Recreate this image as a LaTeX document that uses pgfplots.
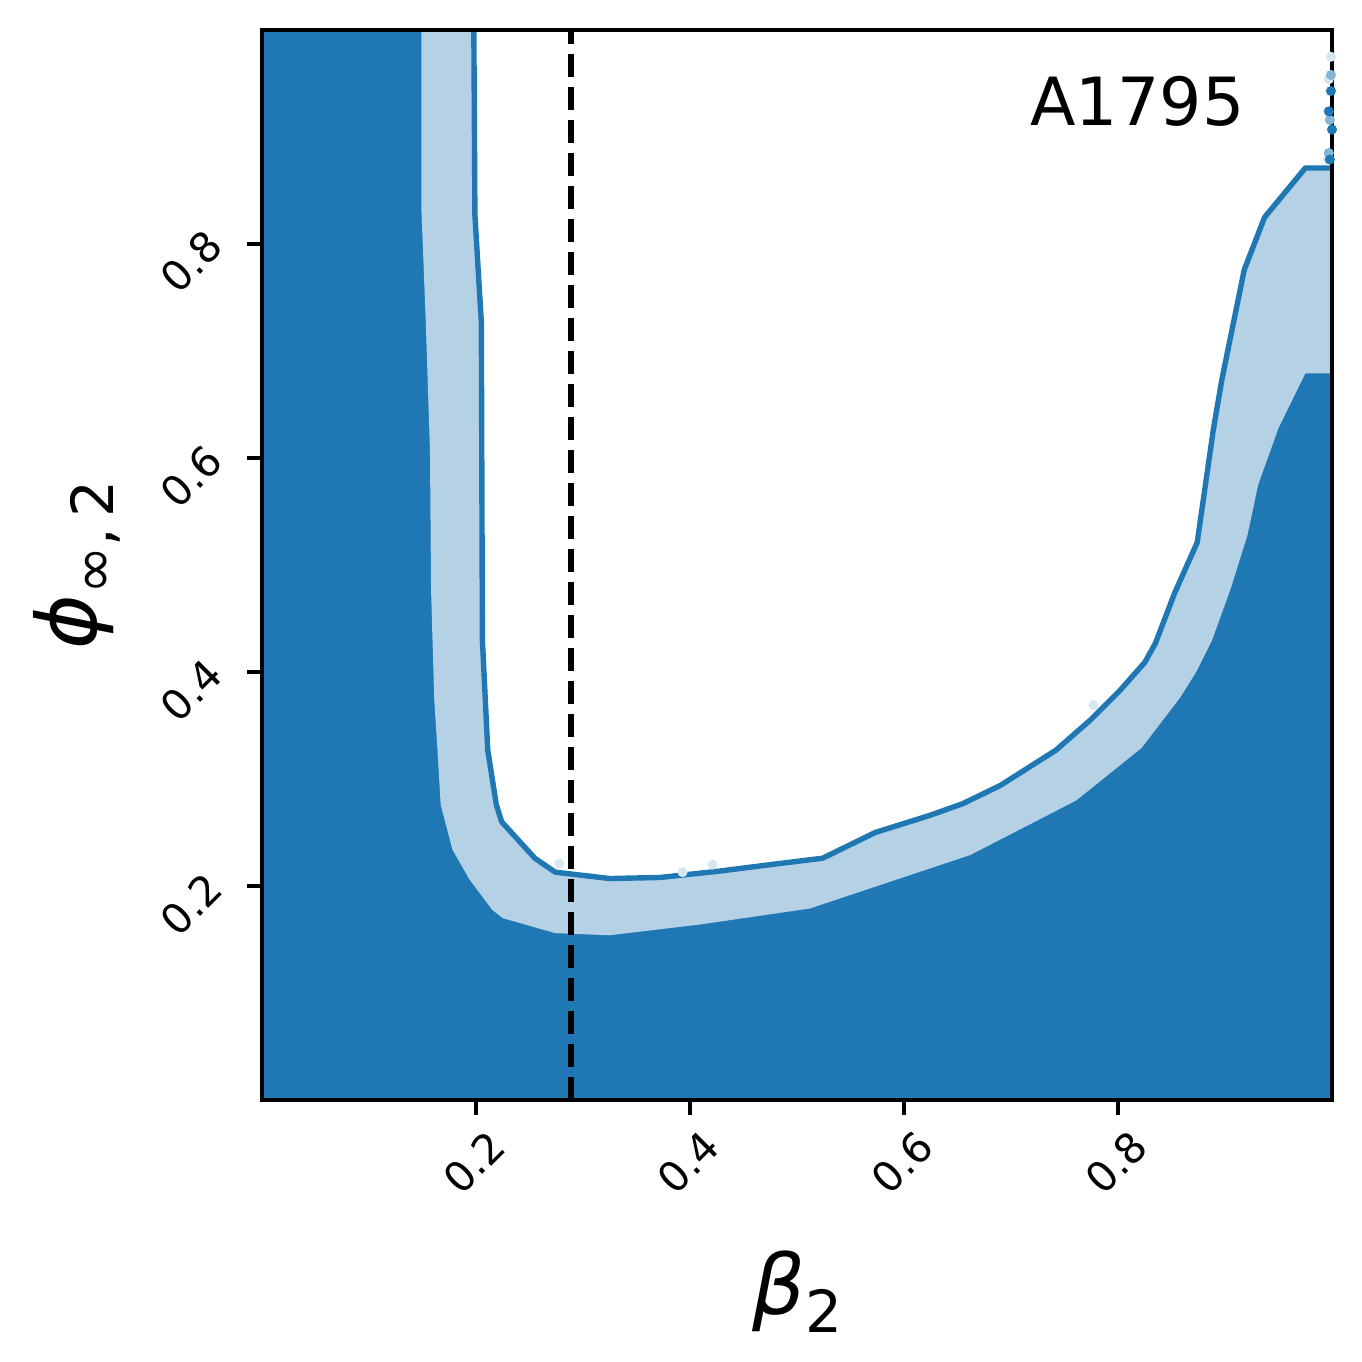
\documentclass[border=0pt]{standalone}
\usepackage{fontspec}
\setmainfont{DejaVu Sans}
\usepackage{pgfplots}
\pgfplotsset{compat=1.18}
\definecolor{cdark}{HTML}{1F77B4}
\definecolor{clight}{HTML}{B4D1E5}

\begin{document}
\begin{tikzpicture}
\begin{axis}[
  at={(0,0)}, anchor=south west,
  width=90.59mm, height=90.59mm, scale only axis,
  xmin=0, xmax=1, ymin=0, ymax=1,
  xtick={0.2,0.4,0.6,0.8}, ytick={0.2,0.4,0.6,0.8},
  tick align=outside, tick pos=left,
  major tick length=3.5pt,
  every tick/.style={black, line width=0.8pt},
  axis line style={line width=0.8pt},
  axis background/.style={fill=cdark},
  axis on top,
  /pgf/number format/assume math mode=true,
  /pgf/number format/fixed, /pgf/number format/precision=1,
  ticklabel style={font=\fontsize{10}{12}\selectfont},
  xticklabel style={anchor=center, yshift=-4.06mm, xshift=-0.17mm, rotate=45},
  yticklabel style={anchor=center, xshift=-4.74mm, yshift=-1.52mm, rotate=45},
  xlabel={\fontsize{20}{24}\selectfont\textit{β}\raisebox{-4.3pt}{\fontsize{14}{14}\selectfont 2}},
  ylabel={\fontsize{20}{24}\selectfont\textit{ϕ}\raisebox{-4.3pt}{\fontsize{14}{14}\selectfont ∞,\,2}},
  xlabel style={at={(axis description cs:0.5,-0.179)}, anchor=center},
  ylabel style={at={(axis description cs:-0.173,0.5)}, anchor=center},
]
% light band (outer contour)
\addplot[draw=none, fill=clight] coordinates {
  (0.149,1.0) (0.149,0.832) (0.153,0.729) (0.157,0.607) (0.158,0.477)
  (0.161,0.374) (0.164,0.327) (0.167,0.276) (0.178,0.234) (0.194,0.206)
  (0.215,0.178) (0.225,0.170) (0.274,0.156) (0.325,0.154) (0.409,0.164)
  (0.512,0.179) (0.578,0.201) (0.662,0.229) (0.761,0.280) (0.822,0.329)
  (0.858,0.376) (0.873,0.400) (0.888,0.430) (0.905,0.477) (0.921,0.528)
  (0.931,0.575) (0.950,0.628) (0.975,0.679) (1.0,0.679) (1.0,1.0)
} -- cycle;
% white interior (inner contour)
\addplot[draw=none, fill=white] coordinates {
  (0.198,1.0) (0.199,0.827) (0.205,0.727) (0.206,0.430) (0.211,0.327)
  (0.219,0.276) (0.224,0.260) (0.255,0.226) (0.274,0.213) (0.325,0.207)
  (0.372,0.208) (0.428,0.214) (0.475,0.220) (0.524,0.226) (0.573,0.250)
  (0.624,0.266) (0.655,0.277) (0.690,0.294) (0.742,0.327) (0.774,0.355)
  (0.802,0.383) (0.825,0.409) (0.835,0.427) (0.853,0.474) (0.874,0.521)
  (0.889,0.626) (0.897,0.673) (0.918,0.776) (0.937,0.825) (0.975,0.871)
  (1.0,0.871) (1.0,1.0)
} -- cycle;
% scattered samples
\addplot[only marks, mark=*, mark size=1pt, cdark!18!white] coordinates {
  (0.999,0.975) (0.997,0.954) (0.996,0.879) (0.777,0.369) (0.393,0.213) (0.421,0.220) (0.278,0.221)
};
\addplot[only marks, mark=*, mark size=1pt, cdark!55!white] coordinates {
  (0.999,0.958) (0.998,0.916) (0.997,0.885)
};
\addplot[only marks, mark=*, mark size=1pt, cdark] coordinates {
  (0.999,0.943) (0.997,0.924) (1.0,0.907) (0.998,0.879)
};
% contour line
\addplot[cdark, line width=1.3pt, line join=round] coordinates {
  (0.198,1.0) (0.199,0.827) (0.205,0.727) (0.206,0.430) (0.211,0.327)
  (0.219,0.276) (0.224,0.260) (0.255,0.226) (0.274,0.213) (0.325,0.207)
  (0.372,0.208) (0.428,0.214) (0.475,0.220) (0.524,0.226) (0.573,0.250)
  (0.624,0.266) (0.655,0.277) (0.690,0.294) (0.742,0.327) (0.774,0.355)
  (0.802,0.383) (0.825,0.409) (0.835,0.427) (0.853,0.474) (0.874,0.521)
  (0.889,0.626) (0.897,0.673) (0.918,0.776) (0.937,0.825) (0.975,0.871)
  (1.0,0.871)
};
% dashed reference line
\addplot[black, line width=1.5pt, dash pattern=on 5.55pt off 2.4pt] coordinates {(0.2888,0) (0.2888,1)};
\node[anchor=base east, font=\fontsize{16}{19}\selectfont, inner sep=0pt] at (axis cs:0.919,0.911) {A1795};
\end{axis}
\path[use as bounding box] (-22.18mm,-22.10mm) rectangle (93.13mm,93.13mm);
\end{tikzpicture}
\end{document}
